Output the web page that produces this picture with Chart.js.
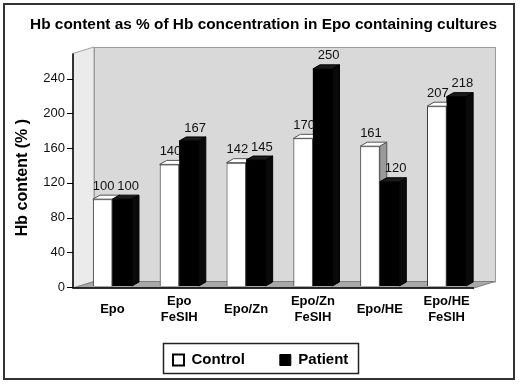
<!DOCTYPE html>
<html><head><meta charset="utf-8">
<script src="https://cdn.jsdelivr.net/npm/chart.js@4.4.1/dist/chart.umd.min.js"></script>
<style>html,body{margin:0;padding:0;background:#fff;overflow:hidden}</style>
</head><body>
<canvas id="c" width="520" height="385" style="display:block;width:520px;height:385px"></canvas>
<script>
// ---- data ----
const categories = [['Epo'], ['Epo', 'FeSIH'], ['Epo/Zn'], ['Epo/Zn', 'FeSIH'], ['Epo/HE'], ['Epo/HE', 'FeSIH']];
const seriesNames = ['Control', 'Patient'];
const controlValues = [100, 140, 142, 170, 161, 207];
const patientValues = [100, 167, 145, 250, 120, 218];
const yTickValues = [0, 40, 80, 120, 160, 200, 240];
const yMax = 270;
const chartTitle = 'Hb content as % of Hb concentration in Epo containing cultures';
const yTitle = 'Hb content (% )\u00a0\u00a0\u00a0\u00a0';

const FONT = 'Arial, "Liberation Sans", sans-serif';
const frame = {fx: -6, fy: 2, bx: 15, by: -4.5};
const bd = {x: 7, y: 4};
const labelDX = [1, 6];

function poly(c, pts, fill, stroke) {
  c.beginPath();
  c.moveTo(pts[0][0], pts[0][1]);
  for (let i = 1; i < pts.length; i++) c.lineTo(pts[i][0], pts[i][1]);
  c.closePath();
  if (fill) { c.fillStyle = fill; c.fill(); }
  if (stroke) { c.strokeStyle = stroke; c.lineWidth = 1; c.stroke(); }
}

const threeD = {
  id: 'threeD',
  beforeDraw(chart) {
    const c = chart.ctx; c.save(); c.fillStyle = '#fff'; c.fillRect(0, 0, chart.width, chart.height); c.restore();
  },
  afterLayout(chart) {
    const lg = chart.legend; if (!lg) return;
    const pad = lg.options.labels.padding;
    const start = (lg.left + pad + lg.right - lg.lineWidths[0]) / 2;
    const shift = 173 - start;
    lg.left += shift; lg.right += shift;
    const h = lg.height; lg.top = 317.5; lg.bottom = lg.top + h;
    lg._boxL = 173 - 10;
    lg._boxR = 173 + lg.lineWidths[0] - pad + 10;
  },
  beforeDatasetsDraw(chart) {
    const c = chart.ctx, a = chart.chartArea, ys = chart.scales.y;
    const fl = a.left + frame.fx, fr = a.right + frame.fx, ft = a.top + frame.fy, fb = a.bottom + frame.fy;
    const bl = a.left + frame.bx, br = a.right + frame.bx, bt = a.top + frame.by, bb = a.bottom + frame.by;
    c.save();
    c.fillStyle = '#d9d9d9'; c.fillRect(bl, bt, br - bl, bb - bt);
    c.strokeStyle = '#9a9a9a'; c.lineWidth = 1; c.strokeRect(bl + 0.5, bt + 0.5, br - bl, bb - bt);
    poly(c, [[fl, ft], [bl, bt], [bl, bb], [fl, fb]], '#ebebeb', '#a0a0a0');
    poly(c, [[fl, fb], [bl, bb], [br, bb], [fr, fb]], '#a8a8a8', '#808080');
    c.strokeStyle = '#000'; c.lineWidth = 1.5;
    c.beginPath(); c.moveTo(fl, ft); c.lineTo(fl, fb); c.lineTo(fr, fb); c.stroke();
    c.lineWidth = 1;
    yTickValues.forEach(v => {
      const y = Math.round(ys.getPixelForValue(v) + 1) + 0.5;
      c.beginPath(); c.moveTo(fl - 6, y); c.lineTo(fl, y); c.stroke();
    });
    c.restore();
  },
  afterDatasetsDraw(chart) {
    const c = chart.ctx;
    const metas = [chart.getDatasetMeta(0).data, chart.getDatasetMeta(1).data];
    c.save();
    for (let i = 0; i < metas[0].length; i++) {
      [metas[0][i], metas[1][i]].forEach((el, d) => {
        const p = el.getProps(['x', 'y', 'base', 'width'], true);
        const l = p.x - p.width / 2, r = p.x + p.width / 2;
        if (d === 1) { c.fillStyle = '#000'; c.fillRect(l, p.y, r - l, p.base - p.y); }
        poly(c, [[r, p.y], [r + bd.x, p.y - bd.y], [r + bd.x, p.base - bd.y], [r, p.base]], d ? '#0a0a0a' : '#9a9a9a', d ? '#000' : '#555');
        poly(c, [[l, p.y], [l + bd.x, p.y - bd.y], [r + bd.x, p.y - bd.y], [r, p.y]], d ? '#1a1a1a' : '#fff', d ? '#000' : '#555');
      });
    }
    c.font = '13px ' + FONT; c.fillStyle = '#111'; c.textAlign = 'center'; c.textBaseline = 'middle';
    chart.data.datasets.forEach((ds, d) => {
      chart.getDatasetMeta(d).data.forEach((el, i) => {
        c.fillText(String(ds.data[i]), el.x + labelDX[d], el.y - 13);
      });
    });
    c.restore();
  },
  afterDraw(chart) {
    const c = chart.ctx, lg = chart.legend;
    c.save();
    c.strokeStyle = '#333'; c.lineWidth = 2;
    c.strokeRect(4, 4, 510, 375);
    if (lg) {
      c.lineWidth = 1.5; c.strokeStyle = '#222';
      c.strokeRect(Math.round(lg._boxL) + 0.5, 343.5, Math.round(lg._boxR - lg._boxL), 30);
    }
    c.restore();
  }
};

new Chart(document.getElementById('c'), {
  type: 'bar',
  data: {
    labels: categories,
    datasets: [
      {label: seriesNames[0], data: controlValues, backgroundColor: '#ffffff', borderColor: '#333', borderWidth: 1, yAxisID: 'y'},
      {label: seriesNames[1], data: patientValues, backgroundColor: '#000000', borderColor: '#000', borderWidth: 0, yAxisID: 'y'}
    ]
  },
  options: {
    responsive: false,
    animation: false,
    devicePixelRatio: 1,
    layout: {padding: {left: 7, right: 0, top: 0, bottom: 0}},
    datasets: {bar: {categoryPercentage: 0.585, barPercentage: 1}},
    scales: {
      x: {
        grid: {display: false, drawTicks: false},
        border: {display: false},
        ticks: {font: {family: FONT, size: 13, weight: 'bold', lineHeight: 1.3}, color: '#000', crossAlign: 'center', padding: 15, maxRotation: 0, autoSkip: false},
        afterFit(s) { s.height = 39; }
      },
      y: {
        min: 0, max: yMax,
        grid: {display: false, drawTicks: false},
        border: {display: false},
        ticks: {font: {family: FONT, size: 13}, color: '#111', padding: 14, labelOffset: 1},
        afterBuildTicks(s) { s.ticks = yTickValues.map(v => ({value: v})); },
        title: {display: true, text: yTitle, font: {family: FONT, size: 16, weight: 'bold'}, color: '#000', padding: {top: 6, bottom: 0}},
        afterFit(s) { s.width = 72; }
      },
      yR: {
        position: 'right', display: true,
        grid: {display: false, drawTicks: false}, border: {display: false},
        ticks: {display: false},
        afterFit(s) { s.width = 40; }
      }
    },
    plugins: {
      title: {display: true, text: chartTitle, color: '#000', font: {family: FONT, size: 15.4, weight: 'bold'}, padding: {top: 16, bottom: 17}},
      legend: {
        position: 'bottom',
        labels: {
          font: {family: FONT, size: 15, weight: 'bold'}, color: '#000', boxWidth: 11, boxHeight: 11, padding: 35,
          generateLabels(chart) {
            return chart.data.datasets.map((ds, i) => ({
              text: ds.label, fillStyle: i === 0 ? '#fff' : '#000', strokeStyle: '#000', lineWidth: i === 0 ? 2 : 1,
              hidden: false, datasetIndex: i, fontColor: '#000'
            }));
          }
        }
      },
      tooltip: {enabled: false}
    }
  },
  plugins: [threeD]
});
</script>
</body></html>
